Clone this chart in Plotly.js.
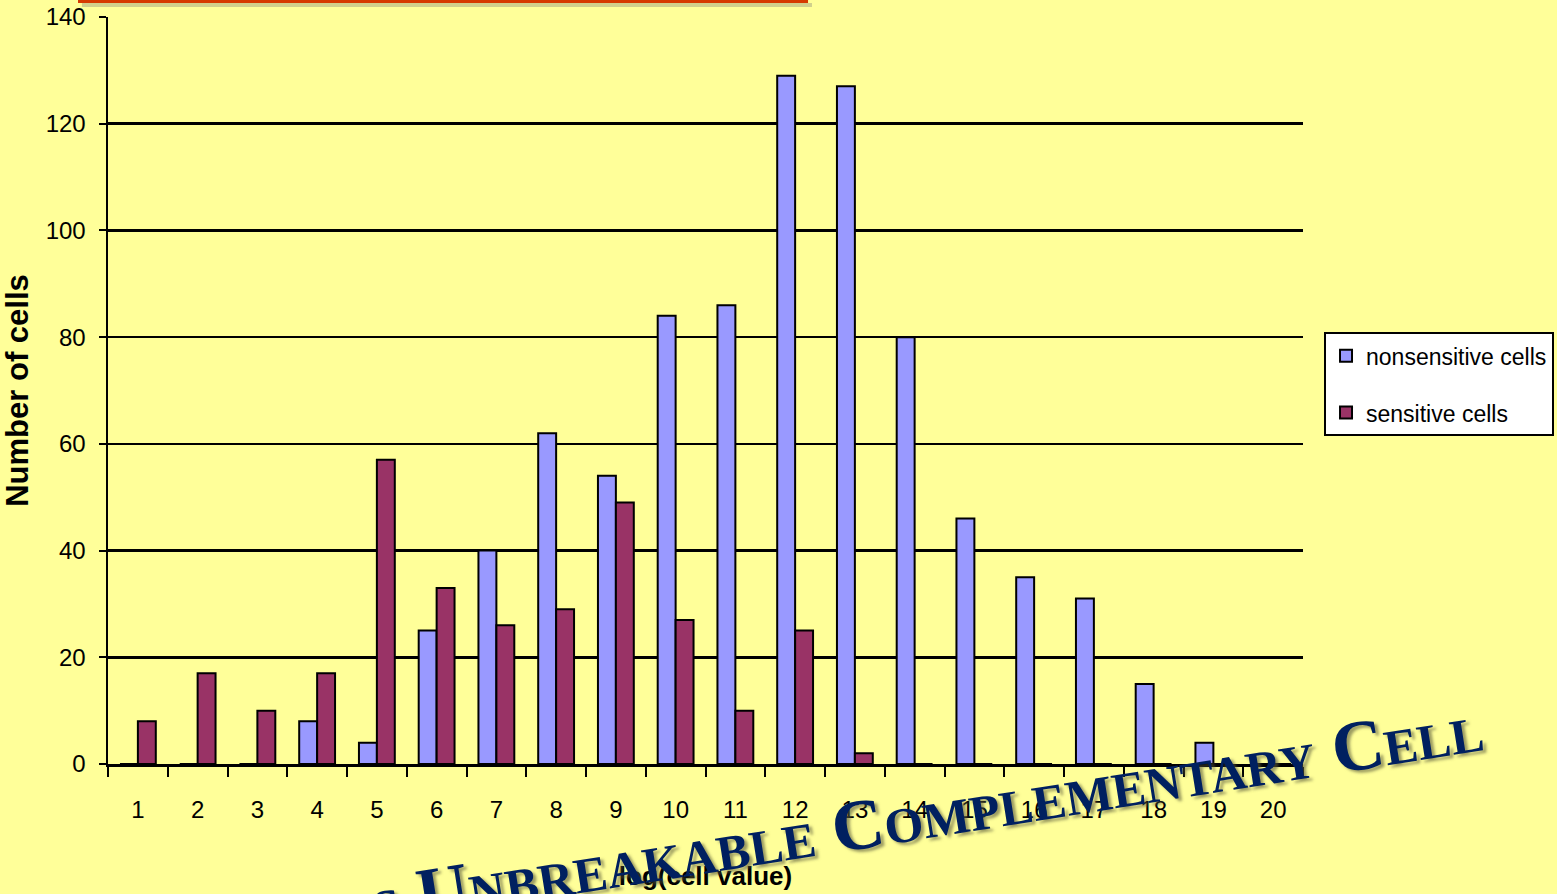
<!DOCTYPE html>
<html>
<head>
<meta charset="utf-8">
<script src="https://cdn.plot.ly/plotly-3.0.1.min.js"></script>
<style>
html,body{margin:0;padding:0;background:#FFFF99;}
#chart{width:1557px;height:894px;}
</style>
</head>
<body>
<div id="chart"></div>
<script>
var categories = ['1','2','3','4','5','6','7','8','9','10','11','12','13','14','15','16','17','18','19','20'];
var nonsensitive = [0,0,0,8,4,25,40,62,54,84,86,129,127,80,46,35,31,15,4,0];
var sensitive = [8,17,10,17,57,33,26,29,49,27,10,25,2,0,0,0,0,0,0,0];
var seriesNames = ['nonsensitive cells','sensitive cells'];
var yTicks = [0,20,40,60,80,100,120,140];

var sans = '"Liberation Sans", Arial, sans-serif';

var traces = [
  {type:'bar', x:categories, y:nonsensitive, name:seriesNames[0], legendgroup:'a',
   marker:{color:'#9999FF', line:{color:'#000000', width:2}}},
  {type:'bar', x:categories, y:sensitive, name:seriesNames[1], legendgroup:'b',
   marker:{color:'#993366', line:{color:'#000000', width:2}}}
];

var layout = {
  width:1557, height:894,
  paper_bgcolor:'#FFFF99', plot_bgcolor:'#FFFF99',
  margin:{l:108, r:254, t:17, b:130, autoexpand:false},
  barmode:'group', bargap:0.4, bargroupgap:0,
  showlegend:true,
  legend:{x:1.0176, xanchor:'left', y:0.578, yanchor:'top',
    bgcolor:'#FFFFFF', bordercolor:'#000000', borderwidth:2,
    font:{family:sans, size:23, color:'#000000'},
    tracegroupgap:24, traceorder:'grouped', itemwidth:30},
  xaxis:{type:'category', categoryarray:categories, tickson:'boundaries',
    ticks:'outside', ticklen:10, tickwidth:2, tickcolor:'#000000',
    showline:true, linecolor:'#000000', linewidth:3, showgrid:false, zeroline:false,
    ticklabelstandoff:22,
    tickfont:{family:sans, size:24, color:'#000000'},
    title:{text:'log(cell value)', font:{family:sans, size:26, color:'#000000', weight:'bold'}, standoff:46}},
  yaxis:{range:[0,140], tickvals:yTicks, ticktext:yTicks.map(String),
    ticks:'outside', ticklen:7, tickwidth:2, tickcolor:'#000000',
    showline:true, linecolor:'#000000', linewidth:2.5,
    showgrid:true, gridcolor:'#000000', gridwidth:2.5, zeroline:false,
    ticklabelstandoff:8,
    tickfont:{family:sans, size:24, color:'#000000'},
    title:{text:'Number of cells', font:{family:sans, size:31, color:'#000000', weight:'bold'}, standoff:10}},
  shapes:[
    {type:'rect', xref:'paper', yref:'paper', x0:-0.0218, x1:0.5891, y0:1.0134, y1:1.0187,
     fillcolor:'rgba(120,120,120,0.35)', line:{width:0}},
    {type:'rect', xref:'paper', yref:'paper', x0:-0.0251, x1:0.5858, y0:1.0187, y1:1.03,
     fillcolor:'#D63A00', line:{width:0}}
  ],
  annotations:[
    {xref:'paper', yref:'paper', x:0.6855, y:-0.067, xanchor:'center', yanchor:'middle',
     text:'s Unbreakable Complementary Cell', showarrow:false, textangle:-9,
     font:{family:'"Liberation Serif", "Times New Roman", serif', size:72, color:'#002060',
       weight:'bold', variant:'small-caps', shadow:'3px 3px 3px rgba(90,90,60,0.6)'}}
  ]
};

Plotly.newPlot('chart', traces, layout, {displayModeBar:false, staticPlot:true});
</script>
</body>
</html>
